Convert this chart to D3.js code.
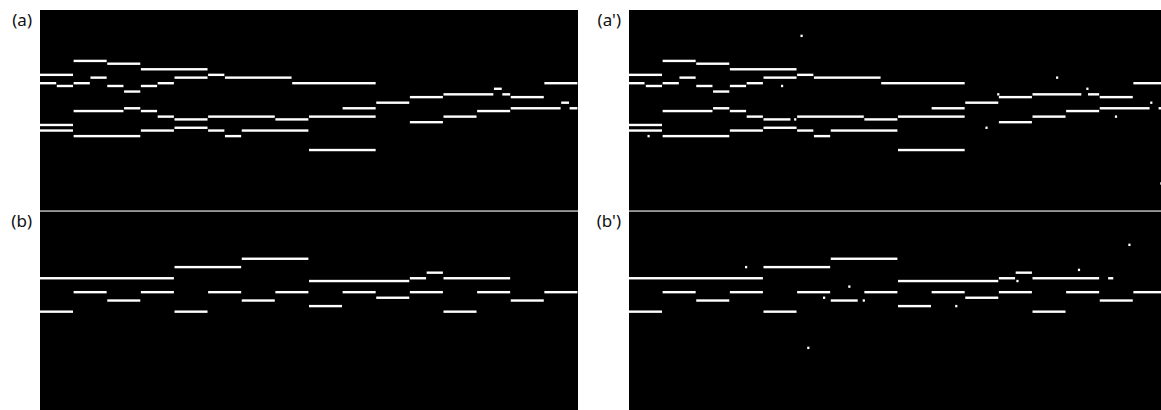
<!DOCTYPE html>
<html>
<head>
<meta charset="utf-8">
<script src="https://cdn.jsdelivr.net/npm/d3@7"></script>
<style>
  body { margin: 0; background: #fff; }
  svg { display: block; }
</style>
</head>
<body>
<div class="roll"></div>
<script>
// notes: [midi pitch, start beat, end beat]
const labels = ["(a)", "(a')", "(b)", "(b')"];

const notesA = [
  [77, 1, 2], [76, 2, 3], [74, 3, 5],
  [72, 0, 1], [72, 5, 5.5],
  [71, 1.5, 2], [71, 4, 5], [71, 5.5, 7.5],
  [69, 0, 0.5], [69, 1, 1.5], [69, 3.5, 4], [69, 7.5, 10], [69, 15, 16],
  [68, 0.5, 1], [68, 2, 2.5], [68, 3, 3.5],
  [67, 13.5, 13.75],
  [66, 2.5, 3],
  [65, 12, 13.5], [65, 13.75, 14],
  [64, 11, 12], [64, 14, 15],
  [62, 10, 11], [62, 15.5, 15.75],
  [60, 2.5, 3], [60, 9, 10], [60, 14, 15.5], [60, 15.75, 16],
  [59, 1, 2.5], [59, 3, 3.5], [59, 13, 14],
  [57, 3.5, 4], [57, 5, 7], [57, 8, 10], [57, 12, 13],
  [56, 4, 5], [56, 7, 8],
  [55, 11, 12],
  [54, 0, 1],
  [53, 4, 5],
  [52, 0, 1], [52, 3, 4], [52, 5, 5.5], [52, 6, 8],
  [50, 1, 3], [50, 5.5, 6],
  [45, 8, 10]
];

const notesA2 = [
  [86, 5.1, 5.17],
  [77, 1, 2], [76, 2, 3], [74, 3, 5],
  [72, 0, 1], [72, 5, 5.5],
  [71, 1.5, 2], [71, 4, 5], [71, 5.5, 7.5], [71, 12.7, 12.77],
  [69, 0, 0.48], [69, 1, 1.5], [69, 3.5, 4], [69, 7.5, 10], [69, 15, 16],
  [68, 0.5, 1], [68, 2, 2.5], [68, 3, 3.5], [68, 4.52, 4.59],
  [67, 13.6, 13.67],
  [66, 2.5, 3],
  [65, 10.95, 11.02], [65, 12, 13.47], [65, 13.65, 14],
  [64, 11, 12], [64, 14, 15],
  [62, 10, 11], [62, 15.5, 15.57],
  [60, 2.5, 3], [60, 9, 10], [60, 14, 15.5], [60, 15.75, 16],
  [59, 1, 2.5], [59, 3, 3.5], [59, 13, 14],
  [57, 3.5, 4], [57, 5, 7], [57, 8, 10], [57, 12, 13], [57, 14.45, 14.52],
  [56, 4, 4.82], [56, 4.91, 4.98], [56, 7, 8],
  [55, 11, 12],
  [54, 0, 1],
  [53, 4, 5], [53, 10.6, 10.67],
  [52, 0, 1], [52, 3, 4], [52, 5, 5.5], [52, 6, 8],
  [50, 0.55, 0.62], [50, 1, 3], [50, 5.5, 6],
  [45, 8, 10],
  [33, 15.8, 15.87]
];

const notesB = [
  [79, 6, 8],
  [76, 4, 6],
  [74, 11.5, 12],
  [72, 0, 4], [72, 11, 11.5], [72, 12, 14],
  [71, 8, 11],
  [67, 1, 2], [67, 3, 4], [67, 5, 6], [67, 7, 8],
  [67, 9, 10], [67, 11, 12], [67, 13, 14], [67, 15, 16],
  [65, 10, 11],
  [64, 2, 3], [64, 6, 7], [64, 14, 15],
  [62, 8, 9],
  [60, 0, 1], [60, 4, 5], [60, 12, 13]
];

const notesB2 = [
  [84, 14.85, 14.92],
  [79, 6, 8],
  [76, 3.45, 3.52], [76, 4, 6],
  [75, 13.35, 13.42],
  [74, 11.5, 12],
  [72, 0, 4], [72, 11, 11.5], [72, 12, 14], [72, 14.25, 14.42],
  [71, 8, 11], [71, 11.52, 11.59],
  [69, 6.52, 6.59],
  [67, 1, 2], [67, 3, 4], [67, 5, 6], [67, 7, 8],
  [67, 9, 10], [67, 11, 12], [67, 13, 14], [67, 15, 16],
  [65, 5.77, 5.84], [65, 10, 11],
  [64, 2, 3], [64, 6, 6.82], [64, 6.95, 7.02], [64, 14, 15],
  [62, 8, 9], [62, 9.7, 9.77],
  [60, 0, 1], [60, 4, 5], [60, 12, 13],
  [47, 5.3, 5.37]
];

const width = 1161;
const height = 410;
const panelW = 538;
const panelH = 200.5;

const panels = [
  { label: labels[0], notes: notesA, left: 40, top: 10, yTop: 9.4 },
  { label: labels[1], notes: notesA2, left: 629, top: 10, yTop: 9.4 },
  { label: labels[2], notes: notesB, left: 40, top: 211.6, yTop: 212.8 },
  { label: labels[3], notes: notesB2, left: 629, top: 211.6, yTop: 212.8 }
];

const svg = d3
  .select(".roll")
  .append("svg")
  .attr("width", width)
  .attr("height", height);

panels.forEach((p) => {
  const x = d3.scaleLinear().domain([0, 16]).range([p.left, p.left + panelW]);
  const y = d3
    .scaleLinear()
    .domain([23.5, 95.5])
    .range([p.yTop + 72 * 2.785, p.yTop]);

  const g = svg.append("g");

  g.append("rect")
    .attr("x", p.left)
    .attr("y", p.top)
    .attr("width", panelW)
    .attr("height", panelH)
    .attr("fill", "#000");

  g.selectAll("rect.note")
    .data(p.notes)
    .enter()
    .append("rect")
    .attr("class", "note")
    .attr("x", (d) => x(d[1]))
    .attr("y", (d) => y(d[0]) - 1.2)
    .attr("width", (d) => Math.max(x(d[2]) - x(d[1]) - 0.6, 2.2))
    .attr("height", 2.4)
    .attr("fill", "#fff");

  svg
    .append("text")
    .attr("x", p.left - 8)
    .attr("y", p.top + 15.5)
    .attr("text-anchor", "end")
    .attr("font-family", "Noto Sans")
    .attr("font-size", "17px")
    .attr("fill", "#111")
    .text(p.label);
});
</script>
</body>
</html>
